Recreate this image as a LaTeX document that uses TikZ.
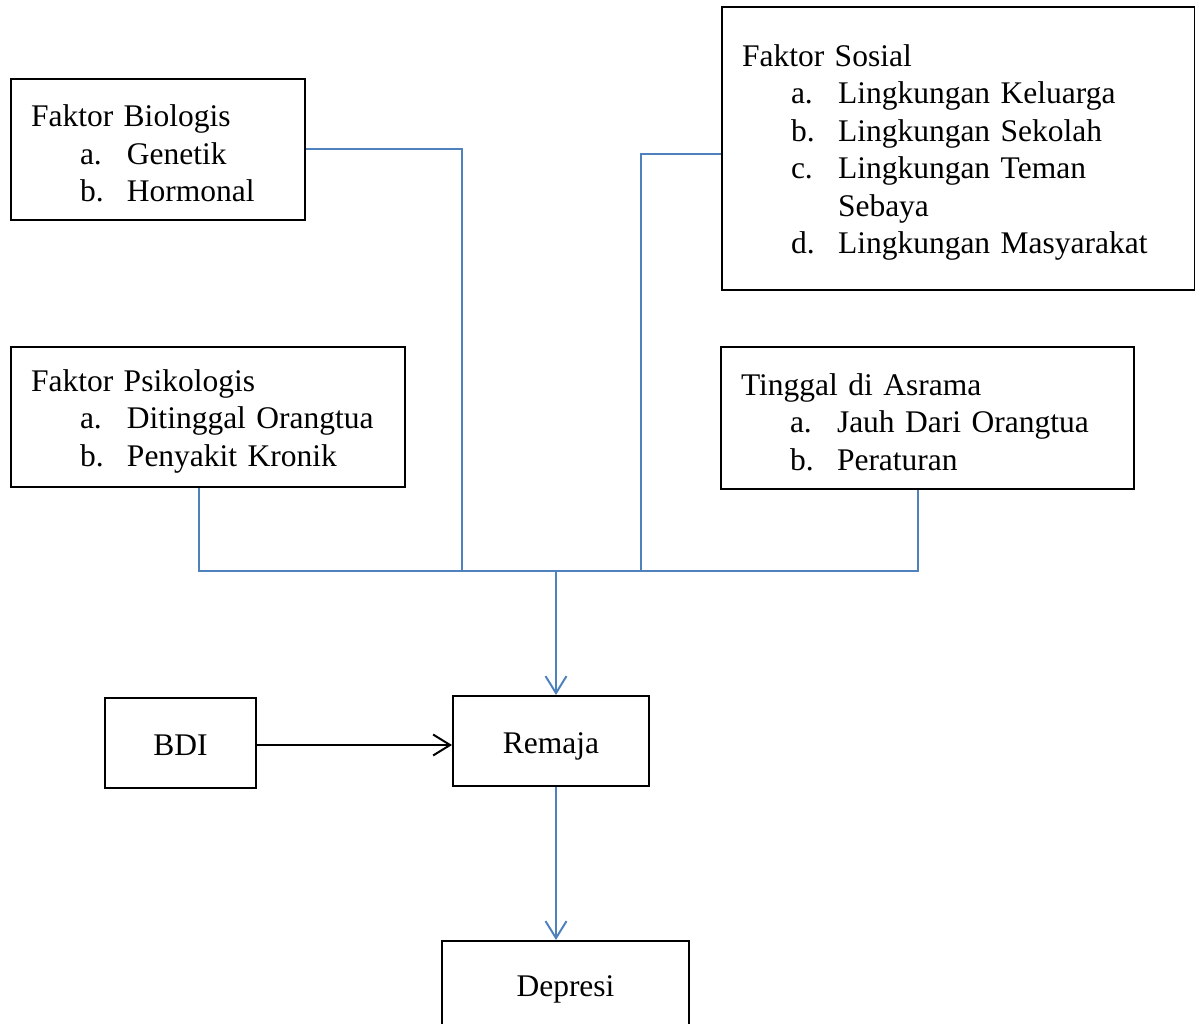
\documentclass[tikz,border=0pt]{standalone}
\usepackage{fontspec}
\setmainfont{Liberation Serif}
\usetikzlibrary{positioning, arrows.meta}
\definecolor{xlink}{HTML}{4F81BD}
\newcommand{\fitem}[2]{\hspace*{49pt}\makebox[47pt][l]{#1}#2}
\tikzset{
  factor/.style = {draw, line width=2pt, anchor=west, align=left, inner xsep=20pt, inner ysep=0pt, text width=#1},
  block/.style = {draw, line width=2pt, minimum width=#1, minimum height=90pt, inner sep=0pt, text height=27pt, text depth=2pt},
  link/.style = {draw=xlink, line width=2pt},
  tip/.style = {-{Straight Barb[length=17pt, width=21pt, line width=2pt]}},
  every node/.append style = {font=\fontsize{31.5}{37.5}\selectfont},
}
\begin{document}
\begin{tikzpicture}[x=1pt, y=-1pt]
  \useasboundingbox (0,0) rectangle (1195,1024);
  % factor boxes
  \node[factor=254pt, minimum height=141pt] (bio) at (10,149.5) {\rule{0pt}{30pt}Faktor Biologis\\ \fitem{a.}{Genetik}\\ \fitem{b.}{Hormonal}};
  \node[factor=433pt, minimum height=283pt] (soc) at (721,148.5) {\rule{0pt}{30pt}Faktor Sosial\\ \fitem{a.}{Lingkungan Keluarga}\\ \fitem{b.}{Lingkungan Sekolah}\\ \fitem{c.}{Lingkungan Teman}\\ \hspace*{96pt}Sebaya\\ \fitem{d.}{Lingkungan Masyarakat}};
  \node[factor=354pt, minimum height=140pt] (psi) at (10,417) {\rule{0pt}{30pt}Faktor Psikologis\\ \fitem{a.}{Ditinggal Orangtua}\\ \fitem{b.}{Penyakit Kronik}};
  \node[factor=373pt, minimum height=142pt] (asr) at (720,418) {\rule{0pt}{30pt}Tinggal di Asrama\\ \fitem{a.}{Jauh Dari Orangtua}\\ \fitem{b.}{Peraturan}};
  % lower boxes
  \node[block=151pt] (bdi) at (180.5,743) {BDI};
  \node[block=196pt] (rem) at (551,741) {Remaja};
  \node[block=247pt, minimum height=86pt] (dep) at (565.5,984) {Depresi};
  % bus
  \coordinate (hub) at (556,571);
  \coordinate (busB) at (462,571);
  \coordinate (busS) at (641,571);
  \draw[link] ([xshift=-9pt]psi.south) |- (hub) -| ([xshift=-9.5pt]asr.south);
  \draw[link] (bio.east) -| (busB);
  \draw[link] ([yshift=-5.5pt]soc.west) -| (busS);
  \draw[link, tip] (hub) -- (hub |- rem.north);
  \draw[link, tip] (rem.south -| hub) -- (hub |- dep.north);
  \draw[line width=2pt, tip] ([yshift=-2pt]bdi.east) -- ([yshift=-2pt]bdi.east -| rem.west);
\end{tikzpicture}
\end{document}
